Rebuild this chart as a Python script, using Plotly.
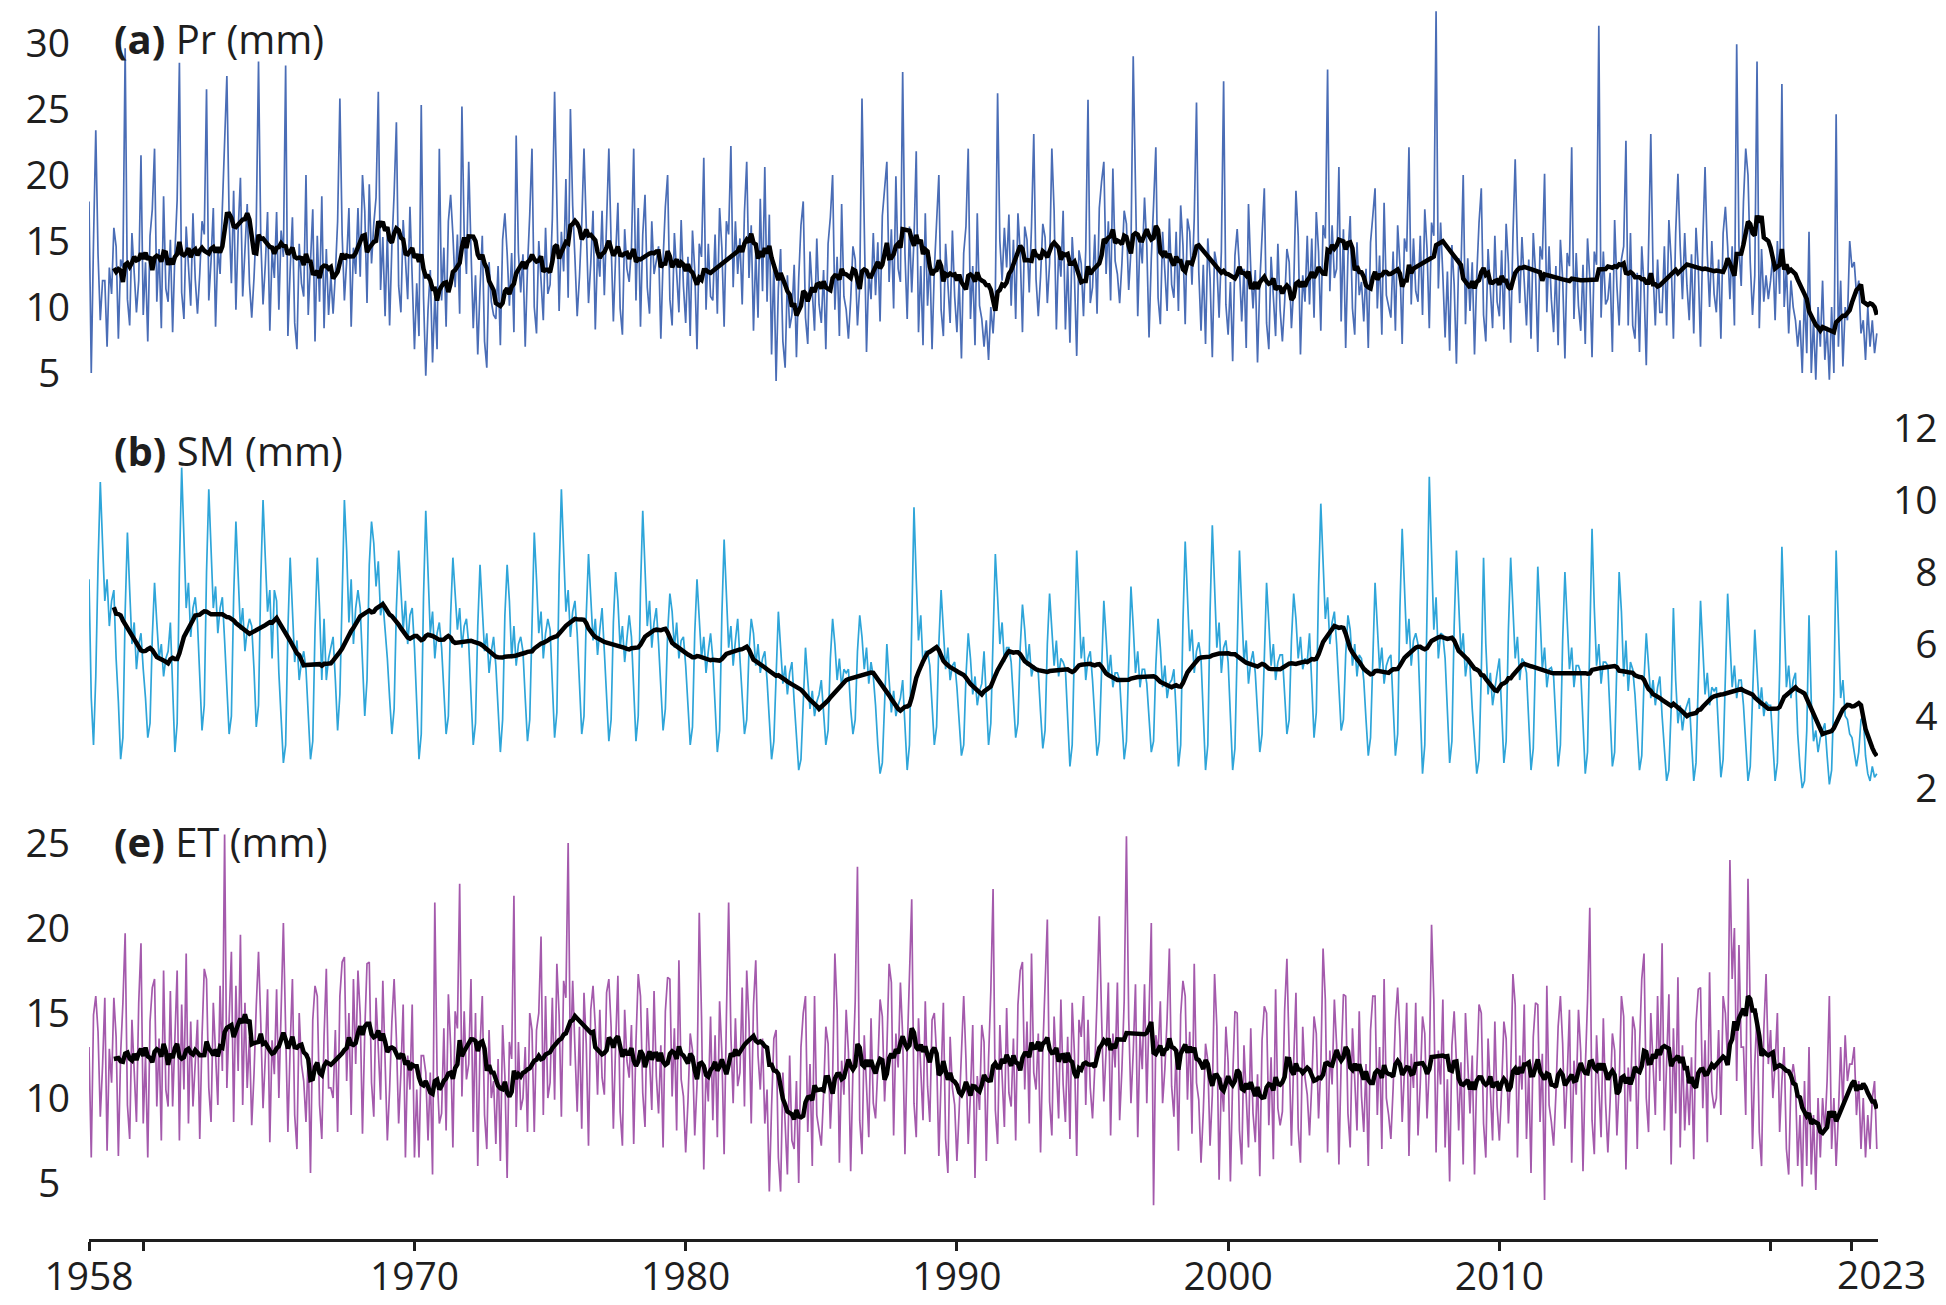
import pandas as pd
import plotly.graph_objects as go

START_YEAR = 1958  # monthly series, Jan 1958 - Dec 2023

# ---------------- (a) Pr (mm), monthly, 12 values per year ----------------
pr_mm = [
    18, 5, 15, 23.4, 14, 9, 12, 12, 7, 13, 11, 16,                      # 1958
    14.6, 7.6, 13.6, 13, 29.6, 10.6, 8.6, 15.6, 12.6, 9.6, 12, 21.5,    # 1959
    9.4, 13.4, 7.4, 15.4, 17.4, 22, 10.4, 14.4, 8.4, 18.4, 11.4, 10.4,  # 1960
    15.1, 8.1, 14.1, 18.1, 28.5, 11.1, 9.1, 16.1, 13.1, 10.1, 17.1, 12.1,
    9.5, 12.5, 16.5, 15.5, 26.5, 10.5, 13.5, 17.5, 8.5, 14.5, 12.5, 17.5,
    24, 27.5, 16.8, 11.8, 18.8, 9.8, 15.8, 19.8, 10.8, 14.8, 17.8, 11.8,
    9.2, 12.2, 16.2, 28.6, 15.2, 10.2, 13.2, 17.2, 8.2, 14.2, 12.2, 17.2,
    9.8, 15.8, 13.8, 28.3, 7.8, 12.8, 16.8, 8.8, 6.8, 14.8, 11.8, 10.8,
    20, 9.4, 13.4, 17.4, 7.4, 15.4, 10.4, 18.4, 8.4, 14.4, 9.4, 12.4,
    9.5, 12.5, 16.5, 25.8, 15.5, 10.5, 13.5, 17.5, 8.5, 14.5, 12.5, 17.5,
    12.3, 20, 17.3, 10.3, 19.3, 13.3, 16.3, 18.3, 26.3, 11.3, 15.3, 9.3,
    15.6, 8.6, 14.6, 18.6, 24, 11.6, 9.6, 16.6, 13.6, 10.6, 17.6, 12.6,
    6.8, 11.8, 7.8, 25.3, 10.8, 4.8, 9.8, 12.8, 5.8, 10.8, 6.8, 22,     # 1970
    10.5, 14.5, 8.5, 16.5, 18.5, 15.5, 11.5, 15.5, 9.5, 25.2, 15.5, 12.5,
    21, 14.4, 8.4, 12.4, 6.4, 11.4, 15.4, 7.4, 5.4, 13.4, 10.4, 9.4,
    9.1, 13.1, 7.1, 15.1, 17.1, 14.1, 10.1, 14.1, 8.1, 23, 14.1, 11.1,
    14, 7, 13, 17, 22, 10, 8, 15, 12, 9, 16, 11,
    11.7, 16.7, 26.3, 18.7, 9.7, 15.7, 12.7, 19.7, 10.7, 25, 17.7, 13.7,
    9.3, 12.3, 16.3, 22, 15.3, 10.3, 13.3, 17.3, 8.3, 14.3, 12.3, 17.3,
    10.9, 16.9, 22, 14.9, 8.9, 13.9, 17.9, 9.9, 7.9, 15.9, 12.9, 11.9,
    14.5, 22, 10.5, 17.5, 8.5, 15.5, 18.5, 11.5, 9.5, 16.5, 12.5, 13.5,
    14.6, 7.6, 13.6, 17.6, 20, 10.6, 8.6, 15.6, 12.6, 9.6, 16.6, 11.6,
    8.8, 13.8, 7.8, 15.8, 12.8, 6.8, 14.8, 13.8, 21.3, 9.8, 14.8, 10.8,  # 1980
    10.5, 15.5, 9.5, 17.5, 14.5, 8.5, 16.5, 15.5, 22.2, 11.5, 16.5, 12.5,
    15.2, 10.2, 17.2, 21, 12.2, 16.2, 8.2, 14.2, 9.2, 18.2, 11.2, 20.6,
    10.4, 17, 6.4, 13.4, 4.4, 11.4, 14.4, 7.4, 5.4, 12.4, 8.4, 9.4,
    13.2, 6.2, 12.2, 16.2, 18, 9.2, 7.2, 14.2, 11.2, 8.2, 15.2, 10.2,
    8.8, 12.8, 6.8, 14.8, 16.8, 20, 9.8, 13.8, 7.8, 17.8, 10.8, 9.8,
    7.6, 10.6, 14.6, 13.6, 8.6, 11.6, 25.8, 15.6, 6.6, 12.6, 10.6, 15.6,
    10.9, 14.9, 8.9, 16.9, 18.9, 21, 11.9, 15.9, 9.9, 19.9, 12.9, 11.9,
    27.8, 14.1, 9.1, 16.1, 11.1, 15.1, 21.8, 8.1, 13.1, 7.1, 17.1, 10.1,
    13.8, 6.8, 12.8, 16.8, 20, 9.8, 7.8, 14.8, 11.8, 8.8, 15.8, 10.8,
    8.1, 12.1, 6.1, 14.1, 16.1, 22, 9.1, 13.1, 7.1, 17.1, 10.1, 9.1,    # 1990
    7, 9, 6, 10, 8, 11, 26.2, 15, 12, 16, 13, 17,
    10.1, 15.1, 9.1, 17.1, 14.1, 8.1, 16.1, 15.1, 11.1, 16.1, 23.1, 12.1,
    9.3, 12.3, 16.3, 15.3, 10.3, 13.3, 22, 17.3, 8.3, 14.3, 12.3, 17.3,
    8.3, 13.3, 7.3, 15.3, 12.3, 6.3, 14.3, 13.3, 9.3, 14.3, 25.7, 10.3,
    11.5, 15.5, 9.5, 17.5, 19.5, 21, 12.5, 16.5, 10.5, 20.5, 13.5, 12.5,
    10.3, 13.3, 17.3, 16.3, 11.3, 14.3, 29, 18.3, 9.3, 15.3, 13.3, 18.3,
    14.7, 7.7, 13.7, 17.7, 22.1, 10.7, 8.7, 15.7, 12.7, 9.7, 16.7, 11.7,
    10.7, 15.7, 9.7, 17.7, 14.7, 8.7, 16.7, 15.7, 11.7, 16.7, 25.5, 12.7,
    8.2, 13.2, 7.2, 15.2, 12.2, 6.2, 14.2, 13.2, 9.2, 14.2, 27.1, 10.2,
    7.9, 11.9, 5.9, 13.9, 15.9, 12.9, 8.9, 12.9, 6.9, 17.8, 12.9, 9.9,  # 2000
    12.8, 5.8, 11.8, 15.8, 19, 8.8, 6.8, 13.8, 10.8, 7.8, 14.8, 9.8,
    7.4, 10.4, 14.4, 13.4, 8.4, 11.4, 18.8, 15.4, 6.4, 12.4, 10.4, 15.4,
    10.2, 15.2, 9.2, 17.2, 14.2, 8.2, 16.2, 15.2, 28, 11.2, 16.2, 12.2,
    12.9, 20.6, 8.9, 15.9, 6.9, 13.9, 16.9, 9.9, 7.9, 14.9, 10.9, 11.9,
    8.9, 12.9, 6.9, 14.9, 16.9, 19, 9.9, 13.9, 7.9, 17.9, 10.9, 9.9,
    9.2, 14.2, 8.2, 16.2, 13.2, 7.2, 15.2, 14.2, 22.1, 10.2, 15.2, 11.2,
    10.4, 15.4, 9.4, 17.4, 14.4, 8.4, 16.4, 15.4, 32.4, 11.4, 16.4, 12.4,
    7.7, 12.7, 6.7, 14.7, 11.7, 5.7, 13.7, 12.7, 20, 8.7, 13.7, 9.7,
    13.4, 6.4, 12.4, 16.4, 19, 9.4, 7.4, 14.4, 11.4, 8.4, 15.4, 10.4,
    9.3, 14.3, 8.3, 16.3, 13.3, 7.3, 15.3, 21.2, 14.3, 10.3, 15.3, 11.3,  # 2010
    8.6, 13.6, 7.6, 15.6, 12.6, 6.6, 14.6, 13.6, 20.1, 9.6, 14.6, 10.6,
    8.1, 13.1, 7.1, 15.1, 12.1, 6.1, 14.1, 13.1, 22.1, 9.1, 14.1, 10.1,
    8.2, 13.2, 7.2, 15.2, 12.2, 6.2, 14.2, 13.2, 31.3, 9.2, 14.2, 10.2,
    10.6, 12.6, 6.6, 16.6, 11.6, 8.6, 13.6, 14.6, 22.6, 8.6, 15.6, 8.6,
    7.6, 12.6, 6.6, 14.6, 11.6, 5.6, 13.6, 23.1, 12.6, 8.6, 13.6, 9.6,
    9.6, 14.6, 8.6, 16.6, 13.6, 7.6, 15.6, 20.1, 14.6, 10.6, 15.6, 11.6,
    9, 14, 8, 16, 13, 7, 15, 20.6, 14, 10, 15, 11,
    9.6, 13.6, 7.6, 15.6, 17.6, 14.6, 10.6, 14.6, 8.6, 29.9, 14.6, 11.6,
    18, 22, 20, 13.4, 9.4, 12.4, 28.6, 8.4, 14.4, 10.4, 12.4, 10.6,
    12, 14, 9, 15, 11, 26.9, 10, 13, 8, 12, 10, 9,                      # 2020
    7, 9, 5, 11, 6.5, 15.7, 5, 9, 4.5, 10, 7, 12,
    6, 8.5, 4.5, 10, 5, 24.6, 7, 12, 5.5, 10, 9, 15,
    13, 13.4, 11, 12, 8, 9, 6, 10, 7, 9, 6.5, 8,                        # 2023
]

# ---------------- (b) SM (mm), monthly ----------------
sm_mm = [
    7.8, 4.5, 3.2, 5.1, 8.2, 10.5, 8.8, 7.2, 7.8, 6.5, 7.2, 7.5,        # 1958
    5.6, 4.4, 2.8, 3.4, 6.9, 9.1, 7.5, 6.0, 6.6, 5.3, 6.0, 6.3,
    5.3, 4.5, 3.4, 3.8, 6.2, 7.7, 6.6, 5.6, 6.0, 5.1, 5.6, 5.8,         # 1960
    6.6, 5.0, 3.0, 3.8, 8.1, 10.9, 8.9, 7.0, 7.7, 6.2, 7.0, 7.3,
    6.6, 5.3, 3.6, 4.3, 8.0, 10.3, 8.6, 7.0, 7.6, 6.3, 7.0, 7.3,
    6.1, 4.9, 3.5, 4.0, 7.3, 9.4, 7.9, 6.4, 7.0, 5.8, 6.4, 6.7,
    6.5, 5.3, 3.7, 4.3, 7.8, 10.0, 8.4, 6.9, 7.5, 5.6, 7.5, 7.2,
    5.2, 4.1, 2.7, 3.2, 6.4, 8.4, 7.0, 5.5, 6.1, 5.0, 5.5, 5.8,
    5.3, 4.2, 2.8, 3.3, 6.4, 8.4, 7.0, 5.0, 6.7, 5.0, 5.6, 5.9,
    6.2, 5.0, 3.6, 4.6, 7.5, 10.0, 8.6, 6.6, 7.8, 6.0, 7.0, 7.5,
    7.0, 5.5, 4.0, 5.0, 8.2, 9.4, 8.8, 7.6, 8.3, 6.8, 7.2, 6.4,
    5.6, 4.5, 3.5, 4.2, 7.0, 8.6, 7.6, 6.4, 7.2, 6.0, 6.8, 7.0,
    5.9, 4.5, 2.8, 3.5, 7.3, 9.7, 8.0, 6.3, 6.9, 5.6, 6.3, 6.6,         # 1970
    5.9, 4.6, 3.5, 4.0, 6.8, 8.4, 7.5, 6.4, 7.0, 5.9, 6.5, 6.7,
    6.0, 4.4, 3.2, 3.8, 6.5, 8.2, 7.0, 5.8, 6.3, 5.2, 5.8, 6.2,
    5.4, 4.2, 3.0, 3.9, 6.8, 8.2, 7.2, 5.6, 6.5, 5.4, 6.0, 6.2,
    5.8, 4.5, 3.3, 3.9, 7.0, 9.1, 7.8, 6.3, 6.9, 5.6, 6.3, 6.7,
    6.4, 5.0, 3.4, 4.1, 7.9, 10.3, 8.6, 6.9, 7.5, 6.2, 6.9, 7.2,
    6.3, 4.8, 3.5, 4.0, 6.8, 8.5, 7.4, 6.1, 6.7, 5.7, 6.4, 7.0,
    5.8, 4.6, 3.3, 3.9, 6.6, 8.0, 7.2, 5.9, 6.5, 5.5, 6.1, 6.8,
    6.2, 4.8, 3.3, 4.0, 7.5, 9.7, 8.1, 6.5, 7.2, 5.9, 6.6, 7.0,
    6.0, 4.8, 3.6, 4.2, 6.3, 7.4, 6.9, 5.9, 6.6, 5.6, 6.1, 6.2,
    5.4, 4.3, 3.2, 3.7, 6.3, 7.8, 6.8, 5.6, 6.2, 5.2, 5.8, 6.3,         # 1980
    5.6, 4.3, 3.0, 3.6, 6.8, 8.9, 7.4, 5.9, 6.5, 5.4, 6.1, 6.7,
    5.6, 4.4, 3.5, 3.9, 5.8, 6.7, 6.3, 5.4, 6.0, 5.2, 5.6, 5.8,
    5.0, 3.9, 2.8, 3.3, 5.4, 6.9, 5.9, 4.9, 5.4, 4.6, 5.2, 5.5,
    4.4, 3.3, 2.5, 2.8, 4.6, 5.9, 5.0, 4.2, 4.7, 4.0, 4.4, 4.6,
    5.0, 4.0, 3.2, 3.6, 5.6, 6.7, 6.0, 5.0, 5.6, 4.8, 5.3, 5.2,
    5.3, 4.2, 3.5, 3.9, 5.8, 6.8, 6.2, 5.3, 5.9, 4.9, 5.5, 5.1,
    4.3, 3.2, 2.4, 2.7, 4.6, 6.0, 5.0, 4.1, 4.7, 4.0, 4.3, 4.5,
    5.0, 3.8, 2.5, 3.2, 7.0, 9.8, 7.8, 6.1, 6.8, 5.4, 5.8, 5.8,
    5.4, 4.2, 3.2, 3.7, 6.0, 7.5, 6.5, 5.3, 5.9, 5.0, 5.4, 5.5,
    4.8, 3.7, 2.9, 3.2, 5.1, 6.3, 5.6, 4.6, 5.1, 4.3, 4.7, 4.9,         # 1990
    5.8, 4.5, 3.2, 3.8, 6.6, 8.5, 7.3, 6.0, 6.6, 5.5, 5.9, 5.9,
    5.5, 4.3, 3.4, 3.8, 5.9, 7.1, 6.4, 5.4, 6.0, 5.1, 5.4, 5.3,
    5.2, 4.1, 3.1, 3.6, 6.0, 7.4, 6.5, 5.4, 6.1, 5.1, 5.6, 5.5,
    5.3, 4.0, 2.6, 3.2, 6.4, 8.6, 7.1, 5.6, 6.2, 5.0, 5.6, 5.8,
    5.0, 3.8, 2.9, 3.3, 5.6, 7.2, 6.2, 5.1, 5.7, 4.8, 5.2, 5.2,
    5.0, 3.8, 2.8, 3.3, 5.8, 7.6, 6.5, 5.2, 5.8, 4.8, 5.3, 5.3,
    4.9, 3.8, 3.0, 3.3, 5.4, 6.7, 5.9, 4.8, 5.4, 4.5, 4.9, 5.0,
    5.3, 4.1, 2.6, 3.2, 6.6, 8.85, 7.3, 5.8, 6.4, 5.2, 5.8, 6.05,
    5.6, 4.2, 2.5, 3.2, 6.9, 9.3, 7.6, 5.9, 6.6, 5.2, 5.9, 6.1,
    5.5, 4.0, 2.5, 3.1, 6.3, 8.6, 7.0, 5.5, 6.1, 4.9, 5.5, 5.8,         # 2000
    5.2, 4.0, 3.0, 3.5, 6.0, 7.7, 6.6, 5.4, 6.0, 5.0, 5.5, 5.7,
    5.7, 4.5, 3.5, 3.9, 6.1, 7.4, 6.7, 5.6, 6.2, 5.3, 5.6, 5.5,
    6.3, 4.9, 3.4, 4.1, 7.6, 9.9, 8.3, 6.7, 7.3, 6.0, 6.6, 6.9,
    6.0, 4.6, 3.6, 3.9, 5.7, 6.8, 6.4, 5.4, 6.0, 5.1, 5.7, 5.6,
    5.0, 3.9, 2.9, 3.4, 5.9, 7.7, 6.5, 5.3, 5.9, 4.9, 5.4, 5.6,
    5.7, 4.4, 2.9, 3.5, 7.0, 9.2, 7.6, 6.0, 6.7, 5.4, 6.1, 6.3,
    6.0, 4.4, 2.4, 3.2, 7.4, 10.65, 8.5, 6.4, 7.3, 5.6, 6.3, 6.25,
    5.6, 4.1, 2.7, 3.3, 6.5, 8.6, 7.1, 5.7, 6.3, 5.1, 5.6, 5.4,
    4.2, 3.3, 2.4, 2.8, 5.2, 8.4, 6.0, 4.6, 5.2, 4.3, 4.8, 5.2,
    5.6, 4.1, 2.7, 3.3, 6.4, 8.4, 7.0, 5.6, 6.2, 5.0, 5.6, 5.5,         # 2010
    5.2, 3.9, 2.5, 3.1, 6.1, 8.15, 6.8, 5.3, 5.9, 4.8, 5.3, 5.35,
    5.1, 3.9, 2.6, 3.2, 6.1, 8.0, 6.7, 5.3, 5.9, 4.8, 5.4, 5.4,
    5.2, 3.9, 2.4, 3.0, 6.2, 9.2, 7.0, 5.4, 6.0, 4.9, 5.5, 5.5,
    5.4, 4.0, 2.6, 3.0, 5.8, 8.0, 6.9, 5.1, 6.1, 4.7, 5.5, 5.3,
    4.6, 3.5, 2.5, 2.9, 5.0, 6.3, 5.5, 4.5, 5.0, 4.3, 4.8, 5.1,
    4.0, 3.0, 2.2, 2.5, 4.2, 7.0, 5.0, 3.8, 4.3, 3.6, 4.1, 4.3,
    4.5, 3.3, 2.2, 2.7, 5.2, 7.2, 5.9, 4.6, 5.2, 4.3, 4.8, 4.7,
    4.8, 3.5, 2.3, 2.8, 5.4, 7.4, 6.1, 4.8, 5.4, 4.5, 5.0, 5.0,
    4.3, 3.2, 2.2, 2.6, 4.7, 6.4, 5.3, 4.2, 4.8, 4.0, 4.4, 4.3,
    4.3, 3.2, 2.2, 2.7, 5.2, 8.7, 6.4, 4.8, 5.4, 4.5, 5.0, 5.2,         # 2020
    3.5, 2.6, 2.0, 2.2, 3.6, 6.8, 4.4, 3.3, 3.6, 3.0, 3.4, 3.6,
    3.8, 2.9, 2.1, 2.5, 4.6, 8.6, 6.2, 4.5, 5.0, 4.0, 3.9, 3.5,
    3.4, 3.0, 2.6, 3.0, 3.9, 4.0, 2.9, 2.4, 2.2, 2.6, 2.3, 2.4,         # 2023
]

# ---------------- (e) ET (mm), monthly ----------------
et_mm = [
    13, 6.5, 14.9, 16, 13.9, 8.9, 11.9, 15.9, 6.9, 12.9, 10.9, 15.9,    # 1958
    13.6, 6.6, 12.6, 15.6, 19.7, 9.6, 7.6, 14.6, 11.6, 8.6, 15.6, 19.1,
    8.5, 12.5, 6.5, 14.5, 16.5, 17, 9.5, 13.5, 7.5, 17.5, 10.5, 9.5,    # 1960
    16.3, 9.5, 13.5, 17.5, 7.5, 15.5, 10.5, 18.5, 8.5, 14.5, 9.5, 12.5,
    14.6, 7.6, 13.6, 17.6, 17, 10.6, 8.6, 15.6, 12.6, 9.6, 16.6, 11.6,
    25.5, 10.6, 14.6, 18.6, 8.6, 16.6, 11.6, 19.6, 9.6, 15.6, 10.6, 13.6,
    8.4, 11.4, 15.4, 18.6, 14.4, 9.4, 12.4, 16.4, 7.4, 13.4, 11.4, 16.4,
    10, 16, 20.3, 14, 8, 13, 17, 9, 7, 15, 12, 11,
    8.6, 12.6, 5.6, 14.6, 16.6, 16, 9.6, 7.6, 13.6, 17.6, 10.6, 10.6,
    10, 14, 8, 16, 18, 18.3, 11, 15, 9, 17, 12, 17.5,
    14.9, 7.9, 13.9, 17.9, 18, 10.9, 8.9, 15.9, 12.9, 9.9, 16.9, 11.9,
    7.5, 10.5, 14.5, 17, 13.5, 8.5, 11.5, 15.5, 6.5, 12.5, 10.5, 15.5,
    6.5, 10.5, 6.5, 12.5, 12.5, 11.5, 7.5, 11.5, 5.5, 21.5, 11.5, 8.5,  # 1970
    9.1, 14.1, 8.1, 16.1, 13.1, 7.1, 15.1, 14.1, 22.6, 10.1, 15.1, 11.1,
    12, 17, 8, 15, 6, 13, 16, 9, 7, 14, 10, 11,
    7.3, 12.3, 6.3, 14.3, 11.3, 5.3, 13.3, 12.3, 21.9, 8.3, 13.3, 9.3,
    10, 13, 8, 15, 14, 8, 14, 15, 19.5, 9, 16, 10,
    10.9, 15.9, 9.9, 17.9, 14.9, 8.9, 16.9, 15.9, 25, 11.9, 16.9, 12.9,
    9.2, 14.2, 8.2, 16.2, 13.2, 7.2, 15.2, 16.6, 14.2, 10.2, 15.2, 11.2,
    10.2, 16.2, 17, 14.2, 8.2, 13.2, 17.2, 9.2, 7.2, 15.2, 12.2, 11.2,
    14.3, 7.3, 13.3, 17.3, 16, 10.3, 8.3, 15.3, 12.3, 9.3, 16.3, 11.3,
    9.1, 13.1, 7.1, 15.1, 17.1, 17, 10.1, 14.1, 8.1, 18.1, 11.1, 10.1,
    6.8, 9.8, 13.8, 12.8, 7.8, 10.8, 20.9, 14.8, 5.8, 11.8, 9.8, 14.8,  # 1980
    8.7, 13.7, 7.7, 15.7, 12.7, 6.7, 14.7, 21.5, 13.7, 9.7, 14.7, 10.7,
    11.5, 16.5, 9.5, 17.5, 14.5, 8.5, 15.5, 18.1, 12.5, 10.5, 13.5, 8.5,
    10.5, 4.5, 9.5, 13.5, 14, 6.5, 4.5, 11.5, 8.5, 5.5, 12.5, 7.5,
    7, 11, 5, 13, 15, 16, 8, 12, 6, 16, 9, 8,
    7.2, 10.2, 14.2, 13.2, 8.2, 11.2, 18.5, 15.2, 6.2, 12.2, 10.2, 15.2,
    12.7, 5.7, 11.7, 15.7, 23.6, 8.7, 6.7, 13.7, 10.7, 7.7, 14.7, 9.7,
    8.8, 11.8, 15.8, 14.8, 9.8, 12.8, 17.9, 16.8, 7.8, 13.8, 11.8, 16.8,
    13.7, 6.7, 12.7, 16.7, 21.7, 9.7, 7.7, 14.7, 11.7, 8.7, 15.7, 10.7,
    8.6, 14.6, 15, 12.6, 6.6, 11.6, 15.6, 7.6, 5.6, 13.6, 10.6, 9.6,
    6.3, 9.3, 13.3, 16, 12.3, 7.3, 10.3, 14.3, 5.3, 11.3, 9.3, 14.3,    # 1990
    13.3, 6.3, 12.3, 16.3, 22.3, 9.3, 7.3, 14.3, 11.3, 8.3, 15.3, 10.3,
    9.5, 13.5, 7.5, 15.5, 17.5, 18, 10.5, 14.5, 8.5, 18.5, 11.5, 10.5,
    13.8, 6.8, 12.8, 16.8, 20.5, 9.8, 7.8, 14.8, 11.8, 8.8, 15.8, 10.8,
    8.6, 13.6, 7.6, 15.6, 12.6, 6.6, 14.6, 13.6, 16, 9.6, 14.6, 10.6,
    8.8, 11.8, 15.8, 20.7, 14.8, 9.8, 12.8, 16.8, 7.8, 13.8, 11.8, 16.8,
    8.7, 11.7, 15.7, 25.4, 14.7, 9.7, 12.7, 16.7, 7.7, 13.7, 11.7, 16.7,
    9.7, 14.7, 20.3, 3.7, 13.7, 12.7, 15.7, 9.7, 11.7, 14.7, 18.8, 10.7,
    8.9, 12.9, 6.9, 14.9, 16.9, 16, 9.9, 13.9, 7.9, 17.9, 10.9, 9.9,
    6.2, 9.2, 13.2, 12.2, 7.2, 10.2, 17.3, 14.2, 5.2, 11.2, 9.2, 14.2,
    12.1, 5.1, 11.1, 15.1, 15, 8.1, 6.1, 13.1, 10.1, 7.1, 14.1, 9.1,    # 2000
    7.4, 11.4, 5.4, 13.4, 15.4, 15, 8.4, 12.4, 6.4, 16.4, 9.4, 8.4,
    9.2, 15.2, 18.2, 13.2, 7.2, 12.2, 16.2, 8.2, 6.2, 14.2, 11.2, 10.2,
    7.8, 10.8, 14.8, 13.8, 8.8, 11.8, 18.8, 15.8, 6.8, 12.8, 10.8, 15.8,
    13.1, 6.1, 12.1, 16.1, 16, 9.1, 7.1, 14.1, 11.1, 8.1, 15.1, 10.1,
    8, 12, 6, 14, 16, 16, 9, 13, 7, 17, 10, 9,
    7.6, 10.6, 14.6, 16.5, 13.6, 8.6, 11.6, 15.6, 6.6, 12.6, 10.6, 15.6,
    7.8, 10.8, 14.8, 13.8, 8.8, 11.8, 20.2, 15.8, 6.8, 12.8, 10.8, 15.8,
    7.1, 11.1, 5.1, 13.1, 15.1, 12.1, 8.1, 12.1, 6.1, 15, 12.1, 9.1,
    12.5, 5.5, 11.5, 15.5, 15, 8.5, 6.5, 13.5, 10.5, 7.5, 14.5, 9.5,
    7.5, 10.5, 14.5, 13.5, 8.5, 11.5, 17.3, 15.5, 6.5, 12.5, 10.5, 15.5,  # 2010
    7.6, 11.6, 5.6, 13.6, 15.6, 15.5, 8.6, 12.6, 4.0, 16.6, 9.6, 8.6,
    7.2, 10.2, 14.2, 16, 13.2, 8.2, 11.2, 15.2, 6.2, 12.2, 10.2, 15.2,
    12.7, 5.7, 11.7, 15.7, 21.2, 8.7, 6.7, 13.7, 10.7, 7.7, 14.7, 9.7,
    6.8, 9.8, 13.8, 12.8, 7.8, 10.8, 16, 14.8, 5.8, 11.8, 9.8, 14.8,
    14, 7, 13, 17, 18.5, 10, 8, 15, 12, 9, 16, 11,
    19.1, 8.1, 12.1, 16.1, 6.1, 14.1, 9.1, 17.1, 7.1, 13.1, 8.1, 11.1,
    8.4, 12.4, 6.4, 14.4, 16.4, 16.5, 9.4, 13.4, 7.4, 17.4, 10.4, 9.4,
    10, 14, 9, 16, 15, 12, 24, 17, 20, 11, 19, 13,
    13, 9, 22.9, 14, 7, 12, 15, 8, 6, 14, 17.3, 12,
    14, 10, 12, 15, 8, 11, 13, 7, 5.5, 11, 12, 11,                      # 2020
    6, 9, 4.8, 11, 6, 13, 5.5, 9, 4.6, 10, 6.5, 10,
    8, 11, 16, 7, 10, 6, 9, 13, 9.5, 13.7, 11, 12,
    12, 13, 9, 11, 7, 10, 6.5, 9, 7, 10, 11, 7,                         # 2023
]

# axis ticks / labels
x_tickvals = [1958, 1960, 1970, 1980, 1990, 2000, 2010, 2020, 2023]
x_ticktext = ["1958", "", "1970", "1980", "1990", "2000", "2010", "", ""]
pr_ticks = [5, 10, 15, 20, 25, 30]
sm_ticks = [2, 4, 6, 8, 10, 12]
et_ticks = [5, 10, 15, 20, 25]

# ---------------- build figure ----------------
x_year = [START_YEAR + i / 12 for i in range(len(pr_mm))]
pr_ma = pd.Series(pr_mm).rolling(12).mean()
sm_ma = pd.Series(sm_mm).rolling(12).mean()
et_ma = pd.Series(et_mm).rolling(12).mean()

W, H = 1946, 1305
FONT = "Open Sans"
INK = "#1e1e1e"
PR_C, SM_C, ET_C = "#4a6db6", "#2ea5d9", "#a45aac"
LBL = 39  # tick label size
TTL = 40  # panel title size

fig = go.Figure()
fig.add_trace(go.Scatter(x=x_year, y=pr_mm, mode="lines", line=dict(color=PR_C, width=1.7), xaxis="x", yaxis="y"))
fig.add_trace(go.Scatter(x=x_year, y=pr_ma, mode="lines", line=dict(color="black", width=4.5), xaxis="x", yaxis="y"))
fig.add_trace(go.Scatter(x=x_year, y=sm_mm, mode="lines", line=dict(color=SM_C, width=1.7), xaxis="x", yaxis="y2"))
fig.add_trace(go.Scatter(x=x_year, y=sm_ma, mode="lines", line=dict(color="black", width=4.5), xaxis="x", yaxis="y2"))
fig.add_trace(go.Scatter(x=x_year, y=et_mm, mode="lines", line=dict(color=ET_C, width=1.7), xaxis="x", yaxis="y3"))
fig.add_trace(go.Scatter(x=x_year, y=et_ma, mode="lines", line=dict(color="black", width=4.5), xaxis="x", yaxis="y3"))

x_left, x_right = 89, 1878
def py(px):  # pixel row from top -> paper fraction
    return 1 - px / H

def left_text(vals):
    # single digits padded so the labels sit centred in a two-digit column
    return [(str(v) + "\u2005") if v < 10 else str(v) for v in vals]

yax_common = dict(showgrid=False, zeroline=False, showline=False, ticks="", automargin=False,
                  tickfont=dict(family=FONT, size=LBL, color=INK), anchor="x")

fig.update_layout(
    width=W, height=H, margin=dict(l=0, r=0, t=0, b=0, pad=0, autoexpand=False),
    paper_bgcolor="white", plot_bgcolor="white", showlegend=False,
    font=dict(family=FONT, size=LBL, color=INK),
    xaxis=dict(domain=[x_left / W, x_right / W], range=[1958, 2023.96], anchor="y3",
               automargin=False,
               showgrid=False, zeroline=False, showline=True, linecolor=INK, linewidth=2.5,
               ticks="outside", ticklen=9, tickwidth=2.5, tickcolor=INK,
               tickvals=x_tickvals, ticktext=x_ticktext, ticklabelstandoff=-8,
               tickfont=dict(family=FONT, size=LBL, color=INK)),
    yaxis=dict(domain=[py(405), 1.0], range=[2.58, 33.26], tickvals=pr_ticks,
               ticktext=left_text(pr_ticks), side="left",
               ticklabelstandoff=18, **yax_common),
    yaxis2=dict(domain=[py(805), py(405)], range=[1.53, 12.64], tickvals=sm_ticks,
                ticktext=[("\u2007" + str(v)) if v < 10 else str(v) for v in sm_ticks],
                side="right", ticklabelstandoff=14, **yax_common),
    yaxis3=dict(domain=[py(1239), py(805)], range=[1.71, 27.24], tickvals=et_ticks,
                ticktext=left_text(et_ticks), side="left",
                ticklabelstandoff=18, **yax_common),
)

ann_font = dict(family=FONT, size=TTL, color=INK)
for txt, ypx in [("<b>(a)</b> Pr (mm)", 38), ("<b>(b)</b> SM (mm)", 450), ("<b>(e)</b> ET (mm)", 841)]:
    fig.add_annotation(text=txt, xref="paper", yref="paper", x=112 / W, y=py(ypx),
                       xanchor="left", yanchor="middle", showarrow=False, font=ann_font)
fig.add_annotation(text="2023", xref="paper", yref="paper", x=1881 / W, y=py(1273),
                   xanchor="center", yanchor="middle", showarrow=False,
                   font=dict(family=FONT, size=LBL, color=INK))

fig.write_html("out.html")
